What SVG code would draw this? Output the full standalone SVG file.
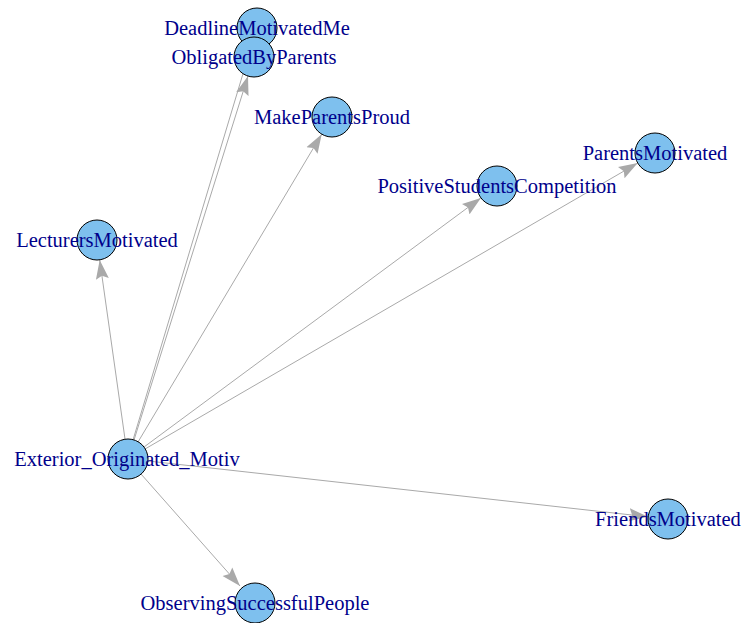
<svg xmlns="http://www.w3.org/2000/svg" width="743" height="623" viewBox="0 0 743 623">
<style>
.edge{stroke:#A9A9A9;stroke-width:1;fill:none;marker-end:url(#arr)}
.node circle{fill:#7EC0EE;stroke:#000;stroke-width:1}
.node text{font-family:"Liberation Serif","Times New Roman",serif;font-size:20.5px;fill:#00008B;text-anchor:middle}
</style>
<defs>
<marker id="arr" markerUnits="userSpaceOnUse" markerWidth="20" markerHeight="14" refX="19" refY="7" orient="auto">
<path d="M0,0.5 L19,7 L0,13.5 L3,7 z" fill="#A9A9A9"/>
</marker>
</defs>
<rect width="743" height="623" fill="#fff"/>
<g id="edges">
<line class="edge" x1="133" y1="440" x2="251" y2="47"/>
<line class="edge" x1="134" y1="440" x2="248" y2="76"/>
<line class="edge" x1="138" y1="442" x2="321.7" y2="134.2"/>
<line class="edge" x1="144" y1="447" x2="480.9" y2="197.9"/>
<line class="edge" x1="145" y1="449" x2="637.7" y2="163.1"/>
<line class="edge" x1="125" y1="439" x2="99.7" y2="260"/>
<line class="edge" x1="148" y1="461" x2="648" y2="516.8"/>
<line class="edge" x1="141" y1="474" x2="240" y2="586"/>
</g>
<g id="n_deadline" class="node"><circle cx="257" cy="28" r="20"/><text x="257" y="35">DeadlineMotivatedMe</text></g>
<g id="n_obligated" class="node"><circle cx="254" cy="57" r="20"/><text x="254" y="64">ObligatedByParents</text></g>
<g id="n_proud" class="node"><circle cx="332" cy="117" r="20"/><text x="332" y="124">MakeParentsProud</text></g>
<g id="n_positive" class="node"><circle cx="497" cy="186" r="20"/><text x="497" y="193">PositiveStudentsCompetition</text></g>
<g id="n_parents" class="node"><circle cx="655" cy="153" r="20"/><text x="655" y="160">ParentsMotivated</text></g>
<g id="n_lecturers" class="node"><circle cx="97" cy="240" r="20"/><text x="97" y="247">LecturersMotivated</text></g>
<g id="n_friends" class="node"><circle cx="668" cy="519" r="20"/><text x="668" y="526">FriendsMotivated</text></g>
<g id="n_observing" class="node"><circle cx="255" cy="603" r="20"/><text x="255" y="610">ObservingSuccessfulPeople</text></g>
<g id="n_exterior" class="node"><circle cx="128" cy="459" r="20"/><text x="127" y="466">Exterior_Originated_Motiv</text></g>
</svg>
